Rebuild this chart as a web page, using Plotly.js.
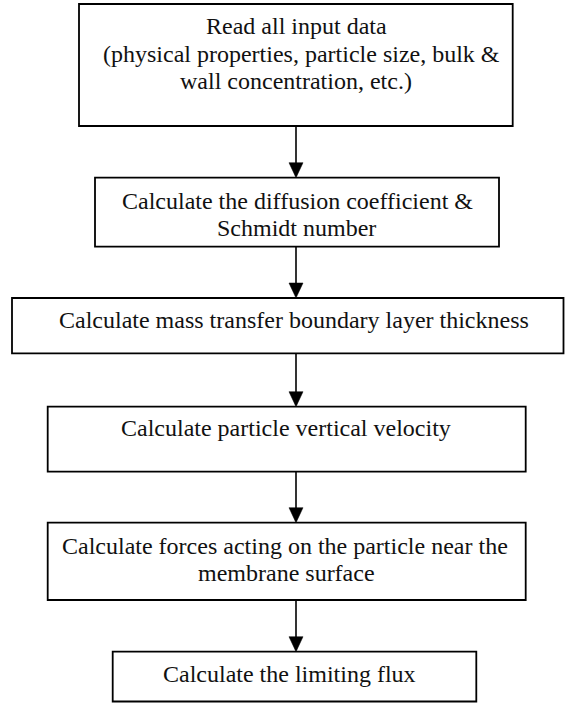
<!DOCTYPE html>
<html>
<head>
<meta charset="utf-8">
<script src="https://cdn.plot.ly/plotly-3.0.1.min.js"></script>
<style>
  html, body { margin: 0; padding: 0; background: #ffffff; }
  #chart { width: 565px; height: 703px; }
</style>
</head>
<body>
<div id="chart"></div>
<script>
// ---- Flowchart content (text of each step, one entry per line) ----
const step1Lines = ["Read all input data", " (physical properties, particle size, bulk &", "wall concentration, etc.)"];
const step2Lines = ["Calculate the diffusion coefficient &", "Schmidt number"];
const step3Lines = ["Calculate mass transfer boundary layer thickness"];
const step4Lines = ["Calculate particle vertical velocity"];
const step5Lines = ["Calculate forces acting on the particle near the", "membrane surface"];
const step6Lines = ["Calculate the limiting flux"];
const stepLines = [step1Lines, step2Lines, step3Lines, step4Lines, step5Lines, step6Lines];

// ---- Layout geometry (pixel space; axes map 1:1 to the page) ----
const W = 565, H = 703;
const boxGeom = [
  { x0: 79,   x1: 512.7, y0: 4,     y1: 126,   tx: [296, 298, 296], ty: [26, 54, 81] },
  { x0: 95,   x1: 499,   y0: 177.7, y1: 246.7, tx: [297, 296],      ty: [201, 228] },
  { x0: 12,   x1: 563.5, y0: 298,   y1: 353.3, tx: [294],           ty: [320] },
  { x0: 47.7, x1: 525.7, y0: 406.7, y1: 471.7, tx: [286],           ty: [428] },
  { x0: 47.7, x1: 525.7, y0: 522.7, y1: 600,   tx: [285, 286],      ty: [546, 573] },
  { x0: 112.7,x1: 476.3, y0: 651.7, y1: 701.5, tx: [289],           ty: [674] }
];
const arrowX = 296;
const headH = 15, headHalfW = 7;

const shapes = [];
const annotations = [];

boxGeom.forEach((b, i) => {
  shapes.push({
    type: 'rect', xref: 'x', yref: 'y',
    x0: b.x0, x1: b.x1, y0: b.y0, y1: b.y1,
    line: { color: '#000000', width: 1.8 },
    fillcolor: 'rgba(0,0,0,0)'
  });
  stepLines[i].forEach((t, k) => {
    annotations.push({
      xref: 'x', yref: 'y', x: b.tx[k], y: b.ty[k],
      text: t, showarrow: false, xanchor: 'center', yanchor: 'middle',
      font: { family: '"Liberation Serif", "Times New Roman", serif', size: 24, color: '#111111' }
    });
  });
});

// connectors between consecutive boxes
for (let i = 0; i < boxGeom.length - 1; i++) {
  const top = boxGeom[i].y1, bot = boxGeom[i + 1].y0;
  shapes.push({
    type: 'line', xref: 'x', yref: 'y',
    x0: arrowX, x1: arrowX, y0: top, y1: bot - headH + 1,
    line: { color: '#000000', width: 1.6 }
  });
  shapes.push({
    type: 'path', xref: 'x', yref: 'y',
    path: `M ${arrowX - headHalfW} ${bot - headH} L ${arrowX + headHalfW} ${bot - headH} L ${arrowX} ${bot} Z`,
    fillcolor: '#000000', line: { color: '#000000', width: 0.5 }
  });
}

const layout = {
  width: W, height: H,
  margin: { l: 0, r: 0, t: 0, b: 0, pad: 0 },
  paper_bgcolor: '#ffffff', plot_bgcolor: '#ffffff',
  xaxis: { range: [0, W], visible: false, fixedrange: true },
  yaxis: { range: [H, 0], visible: false, fixedrange: true },
  showlegend: false,
  shapes: shapes,
  annotations: annotations
};

Plotly.newPlot('chart', [], layout, { staticPlot: true, displayModeBar: false });
</script>
</body>
</html>
